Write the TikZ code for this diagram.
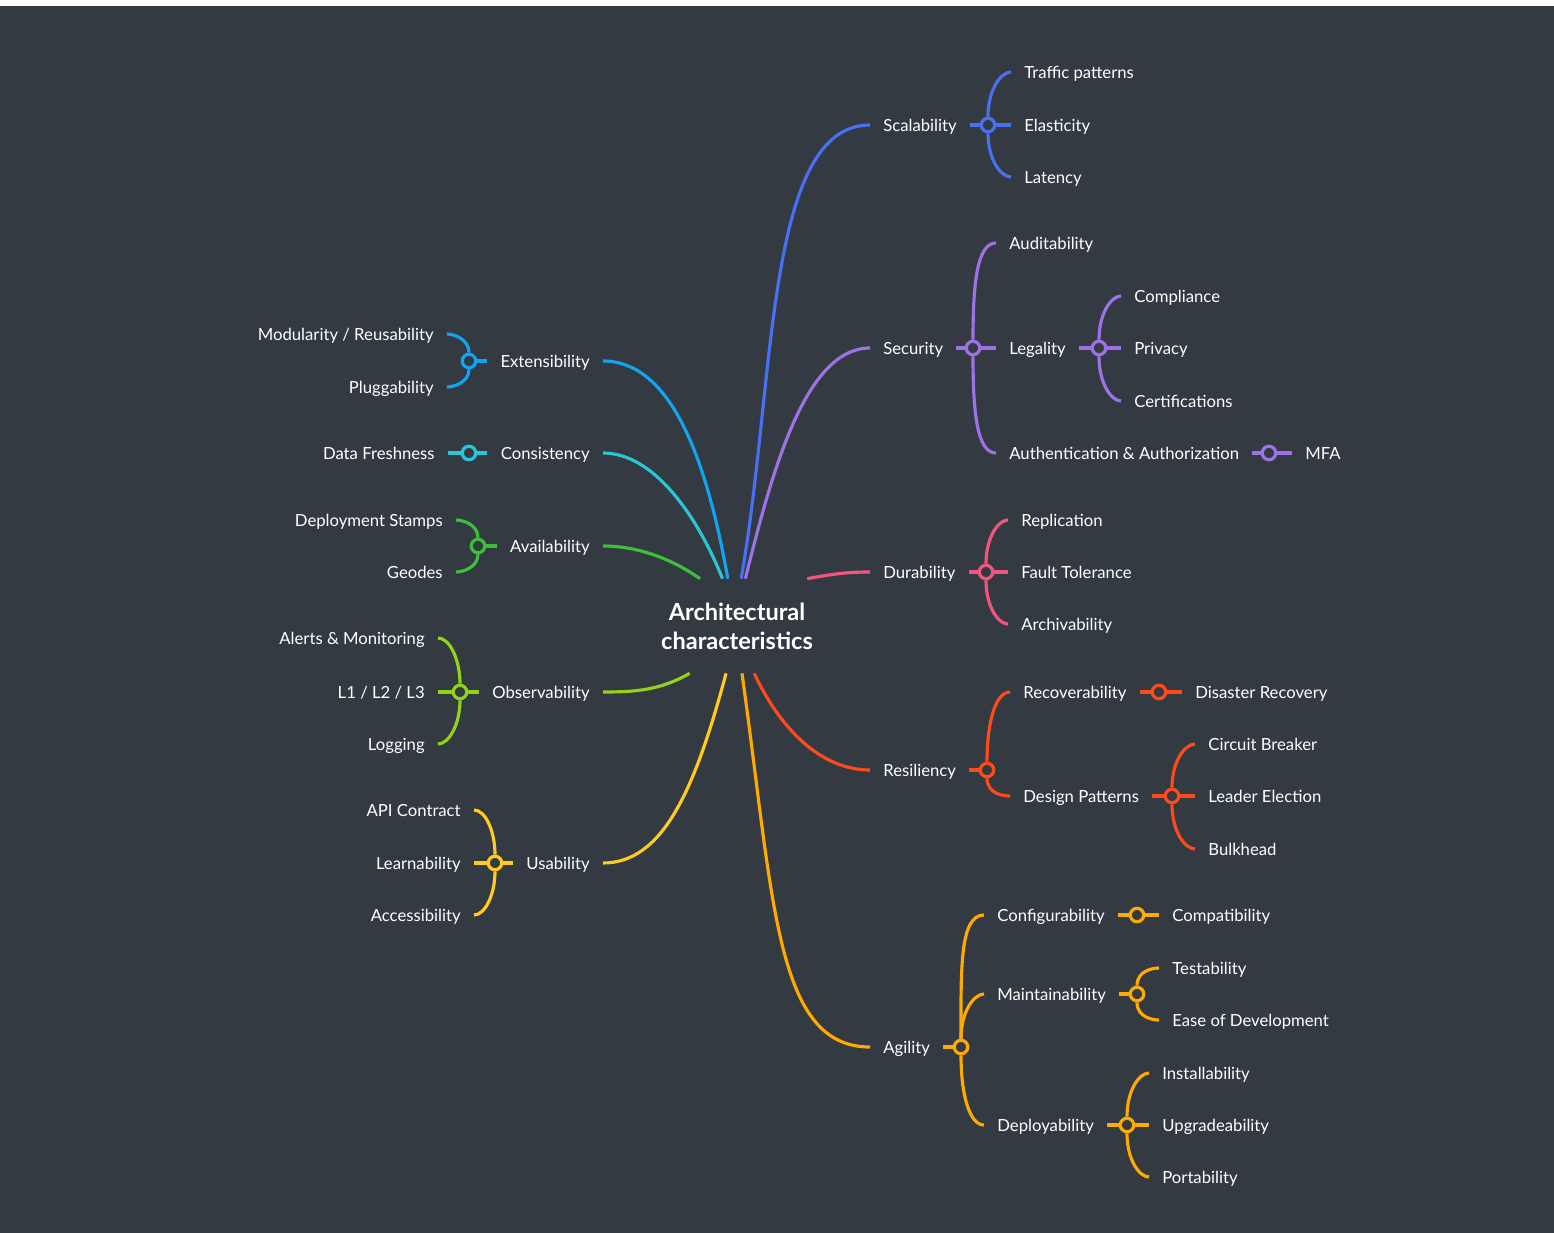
\documentclass[tikz,border=0pt]{standalone}
\usepackage{fontspec}
\setmainfont{Lato}
\usetikzlibrary{calc}
\definecolor{bgdark}{HTML}{343A41}
\definecolor{cScal}{HTML}{4770F5}
\definecolor{cSecu}{HTML}{9C72E6}
\definecolor{cDura}{HTML}{F2567F}
\definecolor{cResil}{HTML}{FF4A1C}
\definecolor{cAgil}{HTML}{FFAA00}
\definecolor{cUsab}{HTML}{FFCB1F}
\definecolor{cObs}{HTML}{91D21B}
\definecolor{cAvail}{HTML}{3CBF3A}
\definecolor{cCons}{HTML}{2AC6D8}
\definecolor{cExt}{HTML}{12A4EE}
\tikzset{
  topic/.style   = {anchor=west, text=white, font=\fontsize{9.5}{11.5}\selectfont,
                    inner xsep=0.26cm, inner ysep=0pt, text height=7.9pt, text depth=0pt},
  ltopic/.style  = {topic, anchor=east},
  rootbox/.style = {text=white, align=center, font=\fontsize{13.4}{16.4}\selectfont\bfseries,
                    minimum width=2.8cm, minimum height=1.88cm, inner sep=0pt},
  hub/.style     = {circle, draw=#1, fill=bgdark, line width=1.8pt,
                    minimum size=0.27cm, inner sep=0pt},
  link/.style    = {draw=#1, line width=1.8pt},
  upfork/.style  = {link=#1, out=90, in=180, out looseness=1.4, in looseness=0.5},
  downfork/.style  = {link=#1, out=-90, in=180, out looseness=1.4, in looseness=0.5},
  lupfork/.style   = {link=#1, out=90, in=0, out looseness=1.2, in looseness=0.6},
  ldownfork/.style = {link=#1, out=-90, in=0, out looseness=1.2, in looseness=0.6},
}
\begin{document}
\begin{tikzpicture}[x=0.02cm,y=0.02cm]
  \useasboundingbox (0,0) rectangle (1554,-1233);
  \fill[white] (0,0) rectangle (1554,-1233);
  \fill[bgdark] (0,-6) rectangle (1554,-1233);

  \node[rootbox] (root) at (737,-626) {Architectural\\characteristics};

  % right side
  \node[topic] (scal) at (870,-125) {Scalability};
  \node[hub=cScal] (hScal) at (988,-125) {};
  \node[topic] (traffic) at (1011,-72) {Traffic patterns};
  \node[topic] (elast) at (1011,-125) {Elasticity};
  \node[topic] (laten) at (1011,-177) {Latency};

  \node[topic] (secu) at (870,-348) {Security};
  \node[hub=cSecu] (hSecu) at (973,-348) {};
  \node[topic] (audit) at (996,-243) {Auditability};
  \node[topic] (legal) at (996,-348) {Legality};
  \node[topic] (authn) at (996,-453) {Authentication \& Authorization};
  \node[hub=cSecu] (hLegal) at (1099,-348) {};
  \node[topic] (compl) at (1121,-296) {Compliance};
  \node[topic] (priv) at (1121,-348) {Privacy};
  \node[topic] (cert) at (1121,-401) {Certifications};
  \node[hub=cSecu] (hAuthn) at (1269,-453) {};
  \node[topic] (mfa) at (1292,-453) {MFA};

  \node[topic] (dura) at (870,-572) {Durability};
  \node[hub=cDura] (hDura) at (986,-572) {};
  \node[topic] (repl) at (1008,-520) {Replication};
  \node[topic] (fault) at (1008,-572) {Fault Tolerance};
  \node[topic] (archiv) at (1008,-624) {Archivability};

  \node[topic] (resil) at (870,-770) {Resiliency};
  \node[hub=cResil] (hResil) at (987,-770) {};
  \node[topic] (recov) at (1010,-692) {Recoverability};
  \node[topic] (design) at (1010,-796) {Design Patterns};
  \node[hub=cResil] (hRecov) at (1159,-692) {};
  \node[topic] (disaster) at (1182,-692) {Disaster Recovery};
  \node[hub=cResil] (hDesign) at (1172,-796) {};
  \node[topic] (circuit) at (1195,-744) {Circuit Breaker};
  \node[topic] (leader) at (1195,-796) {Leader Election};
  \node[topic] (bulk) at (1195,-849) {Bulkhead};

  \node[topic] (agil) at (870,-1047) {Agility};
  \node[hub=cAgil] (hAgil) at (961,-1047) {};
  \node[topic] (config) at (984,-915) {Configurability};
  \node[topic] (maint) at (984,-994) {Maintainability};
  \node[topic] (deploy) at (984,-1125) {Deployability};
  \node[hub=cAgil] (hConfig) at (1137,-915) {};
  \node[topic] (compat) at (1159,-915) {Compatibility};
  \node[hub=cAgil] (hMaint) at (1137,-994) {};
  \node[topic] (test) at (1159,-968) {Testability};
  \node[topic] (ease) at (1159,-1020) {Ease of Development};
  \node[hub=cAgil] (hDeploy) at (1127,-1125) {};
  \node[topic] (install) at (1149,-1073) {Installability};
  \node[topic] (upgrade) at (1149,-1125) {Upgradeability};
  \node[topic] (porta) at (1149,-1177) {Portability};

  % left side
  \node[ltopic] (ext) at (603,-361) {Extensibility};
  \node[hub=cExt] (hExt) at (469,-361) {};
  \node[ltopic] (modul) at (447,-334) {Modularity / Reusability};
  \node[ltopic] (plug) at (447,-387) {Pluggability};

  \node[ltopic] (cons) at (603,-453) {Consistency};
  \node[hub=cCons] (hCons) at (469,-453) {};
  \node[ltopic] (fresh) at (448,-453) {Data Freshness};

  \node[ltopic] (avail) at (603,-546) {Availability};
  \node[hub=cAvail] (hAvail) at (478,-546) {};
  \node[ltopic] (stamps) at (456,-520) {Deployment Stamps};
  \node[ltopic] (geodes) at (456,-572) {Geodes};

  \node[ltopic] (obs) at (603,-692) {Observability};
  \node[hub=cObs] (hObs) at (460,-692) {};
  \node[ltopic] (alerts) at (438,-638) {Alerts \& Monitoring};
  \node[ltopic] (levels) at (438,-692) {L1 / L2 / L3};
  \node[ltopic] (logging) at (438,-744) {Logging};

  \node[ltopic] (usab) at (603,-863) {Usability};
  \node[hub=cUsab] (hUsab) at (495,-863) {};
  \node[ltopic] (api) at (474,-810) {API Contract};
  \node[ltopic] (learn) at (474,-863) {Learnability};
  \node[ltopic] (access) at (474,-915) {Accessibility};

  % main branches
  \draw[link=cScal] (root.85) .. controls +(80:200) and +(180:105) .. (scal.west);
  \draw[link=cSecu] (root.80) .. controls +(76:110) and +(180:65) .. (secu.west);
  \draw[link=cDura] (root.34) .. controls +(10:25) and +(180:25) .. (dura.west);
  \draw[link=cResil] (root.290) .. controls +(-65:60) and +(180:50) .. (resil.west);
  \draw[link=cAgil] (root.276) .. controls +(-82:230) and +(180:95) .. (agil.west);
  \draw[link=cExt] (root.101) .. controls +(100:130) and +(0:65) .. (ext.east);
  \draw[link=cCons] (root.107) .. controls +(112:70) and +(0:50) .. (cons.east);
  \draw[link=cAvail] (root.128) .. controls +(145:40) and +(0:30) .. (avail.east);
  \draw[link=cObs] (root.225) .. controls +(-150:35) and +(0:30) .. (obs.east);
  \draw[link=cUsab] (root.257) .. controls +(-105:120) and +(0:60) .. (usab.east);

  % forks on the right
  \draw[link=cScal] (scal) -- (hScal) -- (elast);
  \draw[upfork=cScal] (hScal.north) to (traffic.west);
  \draw[downfork=cScal] (hScal.south) to (laten.west);

  \draw[link=cSecu] (secu) -- (hSecu) -- (legal);
  \draw[upfork=cSecu] (hSecu.north) to (audit.west);
  \draw[downfork=cSecu] (hSecu.south) to (authn.west);
  \draw[link=cSecu] (legal) -- (hLegal) -- (priv);
  \draw[upfork=cSecu] (hLegal.north) to (compl.west);
  \draw[downfork=cSecu] (hLegal.south) to (cert.west);
  \draw[link=cSecu] (authn) -- (hAuthn) -- (mfa);

  \draw[link=cDura] (dura) -- (hDura) -- (fault);
  \draw[upfork=cDura] (hDura.north) to (repl.west);
  \draw[downfork=cDura] (hDura.south) to (archiv.west);

  \draw[link=cResil] (resil) -- (hResil);
  \draw[upfork=cResil] (hResil.north) to (recov.west);
  \draw[downfork=cResil] (hResil.south) to (design.west);
  \draw[link=cResil] (recov) -- (hRecov) -- (disaster);
  \draw[link=cResil] (design) -- (hDesign) -- (leader);
  \draw[upfork=cResil] (hDesign.north) to (circuit.west);
  \draw[downfork=cResil] (hDesign.south) to (bulk.west);

  \draw[link=cAgil] (agil) -- (hAgil);
  \draw[upfork=cAgil] (hAgil.north) to (config.west);
  \draw[upfork=cAgil] (hAgil.north) to (maint.west);
  \draw[downfork=cAgil] (hAgil.south) to (deploy.west);
  \draw[link=cAgil] (config) -- (hConfig) -- (compat);
  \draw[link=cAgil] (maint) -- (hMaint);
  \draw[upfork=cAgil] (hMaint.north) to (test.west);
  \draw[downfork=cAgil] (hMaint.south) to (ease.west);
  \draw[link=cAgil] (deploy) -- (hDeploy) -- (upgrade);
  \draw[upfork=cAgil] (hDeploy.north) to (install.west);
  \draw[downfork=cAgil] (hDeploy.south) to (porta.west);

  % forks on the left
  \draw[link=cExt] (ext) -- (hExt);
  \draw[lupfork=cExt] (hExt.north) to (modul.east);
  \draw[ldownfork=cExt] (hExt.south) to (plug.east);

  \draw[link=cCons] (cons) -- (hCons) -- (fresh);

  \draw[link=cAvail] (avail) -- (hAvail);
  \draw[lupfork=cAvail] (hAvail.north) to (stamps.east);
  \draw[ldownfork=cAvail] (hAvail.south) to (geodes.east);

  \draw[link=cObs] (obs) -- (hObs) -- (levels);
  \draw[lupfork=cObs] (hObs.north) to (alerts.east);
  \draw[ldownfork=cObs] (hObs.south) to (logging.east);

  \draw[link=cUsab] (usab) -- (hUsab) -- (learn);
  \draw[lupfork=cUsab] (hUsab.north) to (api.east);
  \draw[ldownfork=cUsab] (hUsab.south) to (access.east);
\end{tikzpicture}
\end{document}
